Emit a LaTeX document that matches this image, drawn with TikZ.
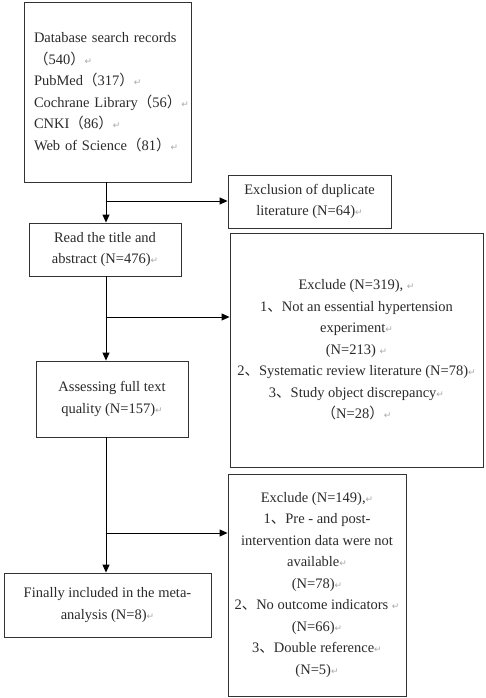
\documentclass[tikz,border=0pt]{standalone}
\usepackage{fontspec}
\setmainfont{Liberation Serif}
\newfontfamily\cjk{Noto Sans CJK SC}
\newfontfamily\symf{DejaVu Sans}
\usetikzlibrary{arrows.meta}
\definecolor{retgray}{HTML}{A8A8A8}
\definecolor{inkc}{HTML}{2A2A2A}
\newcommand{\rt}{{\color{retgray}\symf\fontsize{9}{9}\selectfont ↵}}
\newcommand{\lpa}{{\cjk （}}
\newcommand{\rpa}{{\cjk ）}}
\newcommand{\dun}{{\cjk 、}}
\begin{document}
\begin{tikzpicture}[x=1pt,y=1pt,
  box/.style={draw=black!80, line width=0.9pt, inner sep=0pt, text=inkc,
    font=\fontsize{14.5}{21.5}\selectfont, align=center},
  arr/.style={draw=black, line width=0.9pt, -{Triangle[length=8pt,width=7pt]}},
  ln/.style={draw=black, line width=0.9pt}]
\useasboundingbox (0,0) rectangle (486,-698);
\fill[white] (0,0) rectangle (486,-698);

\node[box, minimum width=167pt, minimum height=180pt, text width=147pt, align=left] (src) at (107.5,-92)
 {\mbox{Database search records}\\ \lpa 540\rpa\rt\\ \mbox{PubMed\lpa 317\rpa\rt}\\ \mbox{Cochrane Library\lpa 56\rpa\rt}\\ \mbox{CNKI\lpa 86\rpa\rt}\\ \mbox{Web of Science\lpa 81\rpa\rt}};

\node[box, minimum width=163pt, minimum height=53pt] (dup) at (309.5,-201.5)
 {Exclusion of duplicate\\ literature (N=64)\rt};

\node[box, minimum width=152pt, minimum height=53pt] (read) at (105,-249.5)
 {Read the title and\\ abstract (N=476)\rt};

\node[box, minimum width=253pt, minimum height=234pt] (ex1) at (356.5,-350)
 {Exclude (N=319), \rt\\ 1\dun Not an essential hypertension\\ experiment\rt\\ (N=213) \rt\\ 2\dun Systematic review literature (N=78)\rt\\ 3\dun Study object discrepancy\rt\\ \lpa N=28\rpa\rt};

\node[box, minimum width=152pt, minimum height=76pt] (assess) at (112,-399)
 {Assessing full text\\ quality (N=157)\rt};

\node[box, minimum width=178pt, minimum height=222pt] (ex2) at (317,-585)
 {Exclude (N=149),\rt\\ 1\dun Pre - and post-\\ intervention data were not\\ available\rt\\ (N=78)\rt\\ 2\dun No outcome indicators \rt\\ (N=66)\rt\\ 3\dun Double reference\rt\\ (N=5)\rt};

\node[box, minimum width=207pt, minimum height=64pt] (final) at (107.5,-605)
 {Finally included in the meta-\\ analysis (N=8)\rt};

\coordinate (j1) at (106,-201);
\coordinate (j2) at (106,-317);
\coordinate (j3) at (106,-533);

\draw[arr] (src.south -| j1) -- (read.north -| j1);
\draw[arr] (j1) -- (j1 -| dup.west);
\draw[arr] (read.south -| j2) -- (assess.north -| j2);
\draw[arr] (j2) -- (j2 -| ex1.west);
\draw[arr] (assess.south -| j3) -- (final.north -| j3);
\draw[arr] (j3) -- (j3 -| ex2.west);
\end{tikzpicture}
\end{document}
